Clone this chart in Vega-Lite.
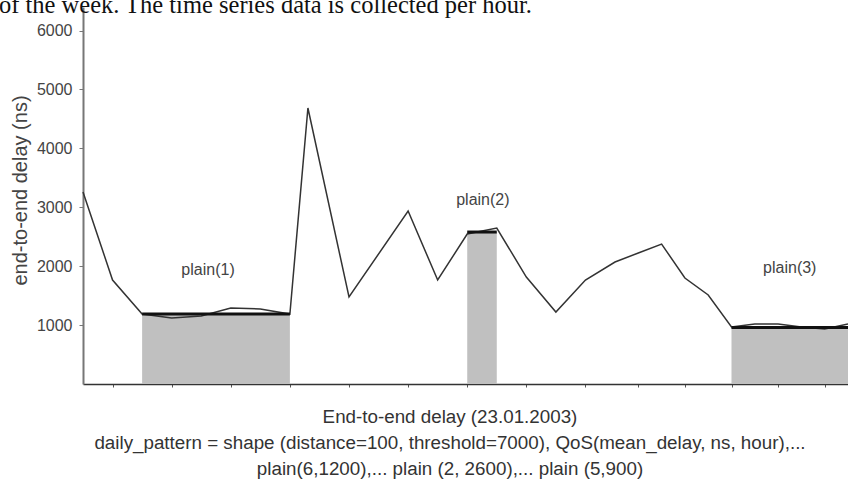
{
  "$schema": "https://vega.github.io/schema/vega-lite/v6.json",
  "width": 765,
  "height": 377,
  "autosize": {"type": "none"},
  "padding": {"left": 83, "top": 7, "right": 0, "bottom": 95},
  "background": "white",
  "title": {
    "text": "of the week. The time series data is collected per hour.",
    "anchor": "start",
    "frame": "group",
    "font": "Liberation Serif",
    "fontSize": 24.5,
    "fontWeight": "normal",
    "color": "#111",
    "baseline": "alphabetic",
    "offset": -30,
    "dx": -84
  },
  "datasets": {
    "series": [
      {"hour": 0, "delay": 3259},
      {"hour": 1, "delay": 1765},
      {"hour": 2, "delay": 1188},
      {"hour": 3, "delay": 1120},
      {"hour": 4, "delay": 1154},
      {"hour": 5, "delay": 1290},
      {"hour": 6, "delay": 1273},
      {"hour": 7, "delay": 1188},
      {"hour": 7.61, "delay": 4685},
      {"hour": 9, "delay": 1477},
      {"hour": 11, "delay": 2937},
      {"hour": 12, "delay": 1765},
      {"hour": 13, "delay": 2546},
      {"hour": 14, "delay": 2648},
      {"hour": 15, "delay": 1816},
      {"hour": 16, "delay": 1222},
      {"hour": 17, "delay": 1765},
      {"hour": 18, "delay": 2071},
      {"hour": 19, "delay": 2224},
      {"hour": 20, "delay": 2376},
      {"hour": 21, "delay": 1799},
      {"hour": 22, "delay": 1511},
      {"hour": 23, "delay": 968},
      {"hour": 24, "delay": 1019},
      {"hour": 25, "delay": 1019},
      {"hour": 26, "delay": 968},
      {"hour": 27, "delay": 934},
      {"hour": 28, "delay": 1019}
    ],
    "plains": [
      {"start": 2, "end": 7, "level": 1190},
      {"start": 13, "end": 14, "level": 2580},
      {"start": 23, "end": 28, "level": 960}
    ],
    "labels": [
      {"hour": 4.23, "delay": 1935, "text": "plain(1)"},
      {"hour": 13.53, "delay": 3123, "text": "plain(2)"},
      {"hour": 25.5, "delay": 1969, "text": "plain(3)"}
    ]
  },
  "layer": [
    {
      "data": {"name": "plains"},
      "mark": {"type": "rect", "color": "#c0c0c0"},
      "encoding": {
        "x": {
          "field": "start", "type": "quantitative",
          "scale": {"domain": [0, 18, 28], "range": [0, 532, 765], "nice": false, "zero": false},
          "axis": {
            "values": [1,2,3,4,5,6,7,8,9,10,11,12,13,14,15,16,17,18,19,20,21,22,23,24,25,26,27],
            "labels": false,
            "grid": false,
            "tickSize": 3,
            "tickColor": "#555",
            "domainColor": "#333",
            "domainWidth": 1.5,
            "title": [
              "End-to-end delay (23.01.2003)",
              "daily_pattern = shape (distance=100, threshold=7000), QoS(mean_delay, ns, hour),...",
              "plain(6,1200),... plain (2, 2600),... plain (5,900)"
            ],
            "titleFont": "Liberation Sans",
            "titleFontSize": 18.8,
            "titleFontWeight": "normal",
            "titleColor": "#333",
            "titleLineHeight": 26,
            "titleBaseline": "alphabetic",
            "titleAnchor": "start",
            "titleAlign": "center",
            "titleX": 366.5,
            "titleY": 38.5
          }
        },
        "x2": {"field": "end"},
        "y": {
          "field": "level", "type": "quantitative",
          "scale": {"domain": [0, 6400], "nice": false, "zero": true},
          "axis": {
            "values": [1000,2000,3000,4000,5000,6000],
            "format": "d",
            "labelOverlap": false,
            "grid": false,
            "tickSize": 4,
            "tickColor": "#777",
            "domainColor": "#777",
            "domainWidth": 2,
            "labelFont": "Liberation Sans",
            "labelFontSize": 16,
            "labelColor": "#444",
            "labelPadding": 7,
            "title": "end-to-end delay (ns)",
            "titleFont": "Liberation Sans",
            "titleFontSize": 20,
            "titleFontWeight": "normal",
            "titleColor": "#444",
            "titleBaseline": "middle",
            "titleX": -63,
            "titleY": 183
          }
        },
        "y2": {"datum": 0}
      }
    },
    {
      "data": {"name": "series"},
      "mark": {"type": "line", "color": "#333", "strokeWidth": 1.5},
      "encoding": {
        "x": {"field": "hour", "type": "quantitative"},
        "y": {"field": "delay", "type": "quantitative"}
      }
    },
    {
      "data": {"name": "plains"},
      "mark": {"type": "rule", "color": "#111", "strokeWidth": 3},
      "encoding": {
        "x": {"field": "start", "type": "quantitative"},
        "x2": {"field": "end"},
        "y": {"field": "level", "type": "quantitative"}
      }
    },
    {
      "data": {"name": "labels"},
      "mark": {"type": "text", "font": "Liberation Sans", "fontSize": 16, "color": "#444", "align": "center", "baseline": "middle"},
      "encoding": {
        "x": {"field": "hour", "type": "quantitative"},
        "y": {"field": "delay", "type": "quantitative"},
        "text": {"field": "text"}
      }
    }
  ],
  "config": {"view": {"stroke": null}}
}
